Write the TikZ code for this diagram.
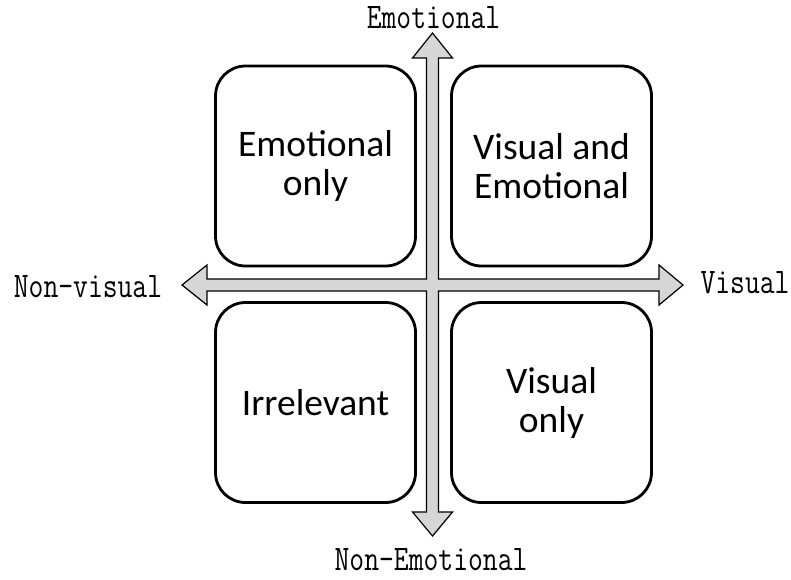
\documentclass[tikz,border=0pt]{standalone}
\usepackage{fontspec}
\newfontfamily\boxfont{Carlito}
\newfontfamily\axisfont[FakeStretch=0.8]{Latin Modern Mono}
\definecolor{axisfill}{HTML}{D6D6D6}
\begin{document}
\begin{tikzpicture}[x=1pt,y=-1pt,
  quad/.style={draw=black, line width=2.8pt, rounded corners=30pt,
    minimum width=200pt, minimum height=200pt, inner sep=0pt,
    align=center, font=\boxfont\fontsize{37.5}{39}\selectfont},
  axislabel/.style={anchor=base, inner sep=0pt,
    font=\axisfont\fontsize{36}{38}\selectfont}]
\useasboundingbox (0,0) rectangle (791,579);

% the two crossing double-headed axes, drawn as one outline
\filldraw[fill=axisfill, draw=black, line width=1.2pt, line join=miter]
  (432.5,33) -- (452.5,58) -- (438.5,58) -- (438.5,279) -- (659,279) -- (659,265)
  -- (683,285) -- (659,305) -- (659,291) -- (438.5,291) -- (438.5,512) -- (452.5,512)
  -- (432.5,536) -- (412.5,512) -- (426.5,512) -- (426.5,291) -- (207,291) -- (207,305)
  -- (182,285) -- (207,265) -- (207,279) -- (426.5,279) -- (426.5,58) -- (412.5,58) -- cycle;

% quadrants
\node[quad] (emo)  at (315.5,166)   {Emotional\\only};
\node[quad] (both) at (551.5,166)   {Visual and\\Emotional};
\node[quad] (irr)  at (315.5,402.5) {Irrelevant};
\node[quad] (vis)  at (551.5,402.5) {Visual\\only};

% axis ends
\node[axislabel] (top)    at (433.5,28)  {Emotional};
\node[axislabel] (bottom) at (431,570)   {Non-Emotional};
\node[axislabel] (left)   at (88,297)    {Non-visual};
\node[axislabel] (right)  at (745,293)   {Visual};
\end{tikzpicture}
\end{document}
